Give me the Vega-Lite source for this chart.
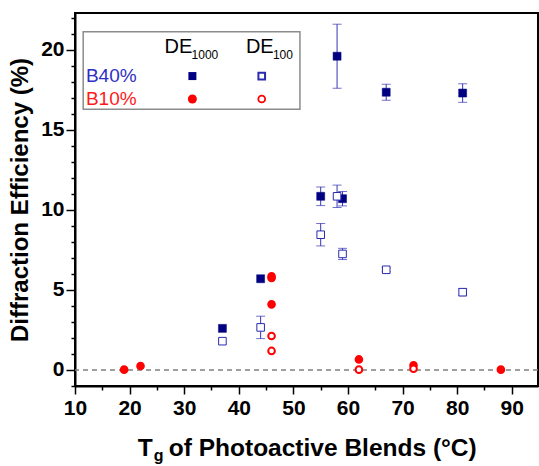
{
  "$schema": "https://vega.github.io/schema/vega-lite/v6.json",
  "autosize": "none",
  "width": 463,
  "height": 373,
  "padding": {"left": 75, "top": 13, "right": 1, "bottom": 80},
  "background": "white",
  "config": {
    "view": {"stroke": "black", "strokeWidth": 2},
    "font": "Liberation Sans"
  },
  "datasets": {
    "pts": [
      {"x": 37, "y": 2.6, "err": 0, "series": "B40% DE1000"},
      {"x": 44, "y": 5.7, "err": 0, "series": "B40% DE1000"},
      {"x": 55, "y": 10.85, "err": 0.58, "series": "B40% DE1000"},
      {"x": 58, "y": 19.6, "err": 2.0, "series": "B40% DE1000"},
      {"x": 59, "y": 10.7, "err": 0.45, "series": "B40% DE1000"},
      {"x": 67, "y": 17.35, "err": 0.5, "series": "B40% DE1000"},
      {"x": 81, "y": 17.3, "err": 0.58, "series": "B40% DE1000"},
      {"x": 37, "y": 1.8, "err": 0, "series": "B40% DE100"},
      {"x": 44, "y": 2.66, "err": 0.7, "series": "B40% DE100"},
      {"x": 55, "y": 8.45, "err": 0.7, "series": "B40% DE100"},
      {"x": 58, "y": 10.85, "err": 0.7, "series": "B40% DE100"},
      {"x": 59, "y": 7.25, "err": 0.35, "series": "B40% DE100"},
      {"x": 67, "y": 6.26, "err": 0.12, "series": "B40% DE100"},
      {"x": 81, "y": 4.86, "err": 0.22, "series": "B40% DE100"},
      {"x": 19, "y": 0.02, "err": 0, "series": "B10% DE1000"},
      {"x": 22, "y": 0.25, "err": 0, "series": "B10% DE1000"},
      {"x": 46, "y": 5.85, "err": 0, "series": "B10% DE1000"},
      {"x": 46, "y": 5.75, "err": 0, "series": "B10% DE1000"},
      {"x": 46, "y": 4.1, "err": 0, "series": "B10% DE1000"},
      {"x": 62, "y": 0.66, "err": 0, "series": "B10% DE1000"},
      {"x": 72, "y": 0.29, "err": 0, "series": "B10% DE1000"},
      {"x": 88, "y": 0.02, "err": 0, "series": "B10% DE1000"},
      {"x": 46, "y": 2.12, "err": 0, "series": "B10% DE100"},
      {"x": 46, "y": 1.19, "err": 0, "series": "B10% DE100"},
      {"x": 62, "y": 0.02, "err": 0, "series": "B10% DE100"},
      {"x": 72, "y": 0.08, "err": 0, "series": "B10% DE100"}
    ]
  },
  "data": {"values": [{}]},
  "resolve": {"axis": {"x": "independent", "y": "independent"}},
  "layer": [
    {
      "layer": [
        {
          "data": {"name": "pts"},
          "transform": [{"filter": "datum.err > 0"}],
          "mark": {"type": "errorbar", "color": "#3535b5", "thickness": 1, "ticks": {"size": 9}},
          "encoding": {
            "x": {"field": "x", "type": "quantitative", "title": null,
              "scale": {"domain": [10, 94.8], "nice": false, "zero": false},
              "axis": {
                "values": [10, 20, 30, 40, 50, 60, 70, 80, 90],
                "tickSize": 8, "grid": false, "domainColor": "black", "domainWidth": 2,
                "tickColor": "black", "tickWidth": 1.5,
                "labelFont": "Liberation Sans", "labelFontSize": 21, "labelFontWeight": "bold",
                "labelColor": "black", "labelPadding": 3, "labelOverlap": false, "labelFlush": false
              }},
            "y": {"field": "y", "type": "quantitative", "title": "Diffraction Efficiency (%)",
              "scale": {"domain": [-1, 22.3], "nice": false, "zero": false},
              "axis": {
                "values": [0, 5, 10, 15, 20],
                "tickSize": 9, "grid": false, "domainColor": "black", "domainWidth": 2,
                "tickColor": "black", "tickWidth": 1.5,
                "labelFont": "Liberation Sans", "labelFontSize": 21, "labelFontWeight": "bold",
                "labelColor": "black", "labelPadding": 2, "labelOverlap": false, "labelFlush": false,
                "titleFont": "Liberation Sans", "titleFontSize": 24, "titleFontWeight": "bold",
                "titleColor": "black", "titlePadding": 8
              }},
            "yError": {"field": "err"}
          }
        },
        {
          "mark": {"type": "rule", "color": "#808080", "strokeDash": [5, 4], "strokeWidth": 1.5},
          "encoding": {
            "y": {"datum": 0, "type": "quantitative"}
          }
        },
        {
          "data": {"name": "pts"},
          "mark": {"type": "point", "opacity": 1},
          "encoding": {
            "x": {"field": "x", "type": "quantitative", "title": null},
            "y": {"field": "y", "type": "quantitative", "title": "Diffraction Efficiency (%)"},
            "shape": {"field": "series", "type": "nominal", "legend": null,
              "scale": {"domain": ["B40% DE1000", "B40% DE100", "B10% DE1000", "B10% DE100"], "range": ["square", "square", "circle", "circle"]}},
            "fill": {"field": "series", "type": "nominal", "legend": null,
              "scale": {"domain": ["B40% DE1000", "B40% DE100", "B10% DE1000", "B10% DE100"], "range": ["#000080", "#ffffff", "#ff0000", "#ffffff"]}},
            "stroke": {"field": "series", "type": "nominal", "legend": null,
              "scale": {"domain": ["B40% DE1000", "B40% DE100", "B10% DE1000", "B10% DE100"], "range": ["#000080", "#2a2ab0", "#ff0000", "#ff0000"]}},
            "size": {"field": "series", "type": "nominal", "legend": null,
              "scale": {"domain": ["B40% DE1000", "B40% DE100", "B10% DE1000", "B10% DE100"], "range": [64, 44, 81, 47]}},
            "strokeWidth": {"field": "series", "type": "nominal", "legend": null,
              "scale": {"domain": ["B40% DE1000", "B40% DE100", "B10% DE1000", "B10% DE100"], "range": [0.5, 2, 0.5, 1.8]}}
          }
        },
        {
          "mark": {"type": "rect", "fill": "white", "stroke": "#8c8c8c", "strokeWidth": 1.5},
          "encoding": {
            "x": {"datum": 11.5, "type": "quantitative"},
            "x2": {"datum": 51.2},
            "y": {"datum": 21.13, "type": "quantitative"},
            "y2": {"datum": 16.29}
          }
        },
        {
          "mark": {"type": "text", "text": "DE", "align": "left", "baseline": "middle", "fontSize": 20, "font": "Liberation Sans", "color": "black"},
          "encoding": {"x": {"datum": 26.4, "type": "quantitative"}, "y": {"datum": 20.2, "type": "quantitative"}}
        },
        {
          "mark": {"type": "text", "text": "1000", "align": "left", "baseline": "middle", "fontSize": 12, "font": "Liberation Sans", "color": "black", "dx": 27, "dy": 8},
          "encoding": {"x": {"datum": 26.4, "type": "quantitative"}, "y": {"datum": 20.2, "type": "quantitative"}}
        },
        {
          "mark": {"type": "text", "text": "DE", "align": "left", "baseline": "middle", "fontSize": 20, "font": "Liberation Sans", "color": "black"},
          "encoding": {"x": {"datum": 41.3, "type": "quantitative"}, "y": {"datum": 20.2, "type": "quantitative"}}
        },
        {
          "mark": {"type": "text", "text": "100", "align": "left", "baseline": "middle", "fontSize": 12, "font": "Liberation Sans", "color": "black", "dx": 27, "dy": 8},
          "encoding": {"x": {"datum": 41.3, "type": "quantitative"}, "y": {"datum": 20.2, "type": "quantitative"}}
        },
        {
          "mark": {"type": "text", "text": "B40%", "align": "left", "baseline": "middle", "fontSize": 19, "font": "Liberation Sans", "color": "#2f2fc4"},
          "encoding": {"x": {"datum": 12.0, "type": "quantitative"}, "y": {"datum": 18.36, "type": "quantitative"}}
        },
        {
          "mark": {"type": "text", "text": "B10%", "align": "left", "baseline": "middle", "fontSize": 19, "font": "Liberation Sans", "color": "#ff1a1a"},
          "encoding": {"x": {"datum": 12.0, "type": "quantitative"}, "y": {"datum": 16.93, "type": "quantitative"}}
        },
        {
          "mark": {"type": "point", "shape": "square", "filled": true, "opacity": 1, "color": "#000080", "size": 64},
          "encoding": {"x": {"datum": 31.5, "type": "quantitative"}, "y": {"datum": 18.36, "type": "quantitative"}}
        },
        {
          "mark": {"type": "point", "shape": "square", "filled": false, "opacity": 1, "fill": "white", "stroke": "#2a2ab0", "strokeWidth": 2, "size": 44},
          "encoding": {"x": {"datum": 44.2, "type": "quantitative"}, "y": {"datum": 18.36, "type": "quantitative"}}
        },
        {
          "mark": {"type": "point", "shape": "circle", "filled": true, "opacity": 1, "color": "#ff0000", "size": 81},
          "encoding": {"x": {"datum": 31.5, "type": "quantitative"}, "y": {"datum": 16.93, "type": "quantitative"}}
        },
        {
          "mark": {"type": "point", "shape": "circle", "filled": false, "opacity": 1, "fill": "white", "stroke": "#ff0000", "strokeWidth": 1.8, "size": 47},
          "encoding": {"x": {"datum": 44.2, "type": "quantitative"}, "y": {"datum": 16.93, "type": "quantitative"}}
        },
        {
          "mark": {"type": "text", "text": "T", "align": "left", "baseline": "alphabetic", "fontSize": 24.5, "fontWeight": "bold", "font": "Liberation Sans", "color": "black"},
          "encoding": {"x": {"datum": 21.5, "type": "quantitative"}, "y": {"datum": -5.35, "type": "quantitative"}}
        },
        {
          "mark": {"type": "text", "text": "g", "align": "left", "baseline": "alphabetic", "fontSize": 16, "fontWeight": "bold", "font": "Liberation Sans", "color": "black", "dx": 16, "dy": 5},
          "encoding": {"x": {"datum": 21.5, "type": "quantitative"}, "y": {"datum": -5.35, "type": "quantitative"}}
        },
        {
          "mark": {"type": "text", "text": "of Photoactive Blends (°C)", "align": "left", "baseline": "alphabetic", "fontSize": 24.5, "fontWeight": "bold", "font": "Liberation Sans", "color": "black", "dx": 31},
          "encoding": {"x": {"datum": 21.5, "type": "quantitative"}, "y": {"datum": -5.35, "type": "quantitative"}}
        }
      ]
    },
    {
      "data": {"name": "pts"},
      "mark": {"type": "point", "opacity": 0},
      "encoding": {
        "x": {"field": "x", "type": "quantitative", "title": null,
          "scale": {"domain": [10, 94.8], "nice": false, "zero": false},
          "axis": {"orient": "bottom", "values": [15, 25, 35, 45, 55, 65, 75, 85],
            "tickSize": 4, "labels": false, "domain": false, "grid": false,
            "tickColor": "black", "tickWidth": 1.5, "title": null}},
        "y": {"field": "y", "type": "quantitative", "title": null,
          "scale": {"domain": [-1, 22.3], "nice": false, "zero": false},
          "axis": {"orient": "left", "values": [-1, 1, 2, 3, 4, 6, 7, 8, 9, 11, 12, 13, 14, 16, 17, 18, 19, 21, 22],
            "tickSize": 4, "labels": false, "domain": false, "grid": false,
            "tickColor": "black", "tickWidth": 1.5, "title": null}}
      }
    }
  ]
}
